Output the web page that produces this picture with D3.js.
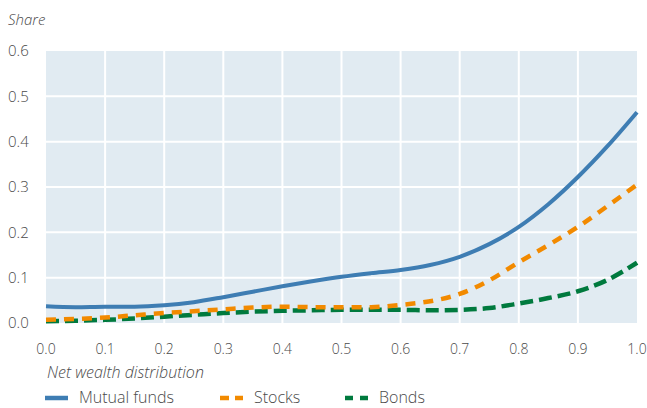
<!DOCTYPE html>
<html><head><meta charset="utf-8">
<script src="https://cdn.jsdelivr.net/npm/d3@7"></script>
<style>
body{margin:0;background:#fff;}
text{font-family:"Open Sans","Lato",sans-serif;fill:#4a4a4a;}
</style></head>
<body><svg id="c" width="647" height="408"></svg>
<script>
const xs = [0,0.05,0.1,0.15,0.2,0.25,0.3,0.35,0.4,0.45,0.5,0.55,0.6,0.65,0.7,0.75,0.8,0.85,0.9,0.95,1.0];
const mutualFunds = [0.037,0.035,0.036,0.036,0.039,0.046,0.057,0.069,0.081,0.092,0.102,0.110,0.117,0.128,0.146,0.174,0.212,0.262,0.322,0.390,0.465];
const stocks = [0.007,0.009,0.012,0.017,0.022,0.026,0.030,0.034,0.036,0.035,0.035,0.035,0.040,0.048,0.064,0.094,0.134,0.172,0.212,0.258,0.305];
const bonds = [0.004,0.005,0.007,0.010,0.014,0.018,0.022,0.025,0.027,0.028,0.029,0.029,0.029,0.028,0.029,0.033,0.043,0.055,0.070,0.095,0.133];
const xTicks = [0,0.1,0.2,0.3,0.4,0.5,0.6,0.7,0.8,0.9,1.0];
const yTicks = [0,0.1,0.2,0.3,0.4,0.5,0.6];
const seriesNames = ["Mutual funds","Stocks","Bonds"];

const svg = d3.select("#c");
const x = d3.scaleLinear().domain([0,1]).range([46,637]);
const y = d3.scaleLinear().domain([0,0.6]).range([323,51]);

svg.append("rect").attr("x",x(0)).attr("y",y(0.6)).attr("width",x(1)-x(0)).attr("height",y(0)-y(0.6)).attr("fill","#e1ebf2");
svg.selectAll("line.vg").data(xTicks.slice(1,-1)).join("line").attr("x1",d=>x(d)).attr("x2",d=>x(d)).attr("y1",y(0.6)).attr("y2",y(0)).attr("stroke","#fff").attr("stroke-width",2);
svg.selectAll("line.hg").data(yTicks.slice(1,-1)).join("line").attr("y1",d=>y(d)).attr("y2",d=>y(d)).attr("x1",x(0)).attr("x2",x(1)).attr("stroke","#fff").attr("stroke-width",2);

svg.selectAll("text.yt").data(yTicks).join("text").attr("x",8).attr("y",d=>y(d)).attr("dy","0.35em").attr("font-size",15).attr("font-weight",300).text(d=>d.toFixed(1));
svg.selectAll("text.xt").data(xTicks).join("text").attr("x",d=>x(d)).attr("y",349).attr("dy","0.35em").attr("text-anchor","middle").attr("font-size",14).attr("font-weight",300).text(d=>d.toFixed(1));

svg.append("text").attr("x",8).attr("y",25).attr("font-size",15).attr("font-style","italic").attr("font-weight",300).text("Share");
svg.append("text").attr("x",47).attr("y",372).attr("dy","0.35em").attr("font-size",16).attr("font-style","italic").attr("font-weight",300).text("Net wealth distribution");

const line = d3.line().x((d,i)=>x(xs[i])).y(d=>y(d)).curve(d3.curveMonotoneX);
const styles = [
  {data:mutualFunds,color:"#3e7db3",dash:null,w:4},
  {data:stocks,color:"#f28a00",dash:"10,8",w:4.5},
  {data:bonds,color:"#007a3e",dash:"13,6",w:4.5}
];
[2,1,0].forEach(k=>{
  const s=styles[k];
  svg.append("path").attr("d",line(s.data)).attr("fill","none").attr("stroke",s.color).attr("stroke-width",s.w).attr("stroke-dasharray",s.dash);
});

const leg = [{x:45,len:23,dash:null,tx:79},{x:220,len:23,dash:"9,6",tx:254},{x:345,len:23,dash:"8,7",tx:379}];
seriesNames.forEach((n,i)=>{
  const s=styles[i], L=leg[i];
  svg.append("line").attr("x1",L.x).attr("x2",L.x+L.len).attr("y1",398).attr("y2",398).attr("stroke",s.color).attr("stroke-width",4.5).attr("stroke-dasharray",L.dash);
  svg.append("text").attr("x",L.tx).attr("y",403).attr("font-size",16).attr("font-weight",300).text(n);
});
</script></body></html>
